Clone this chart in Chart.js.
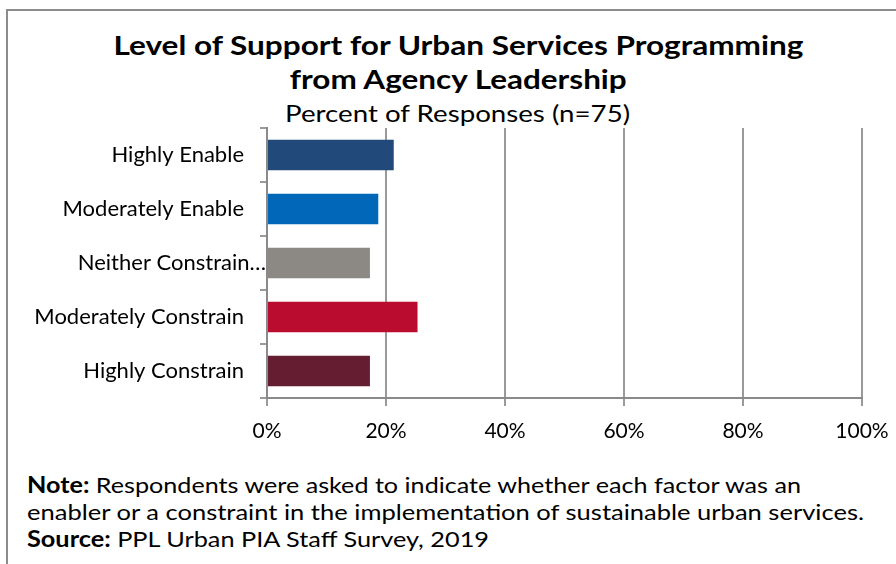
<!DOCTYPE html>
<html>
<head>
<meta charset="utf-8">
<script src="https://cdn.jsdelivr.net/npm/chart.js@4/dist/chart.umd.min.js"></script>
<style>
  html, body { margin: 0; padding: 0; background: #fff; overflow: hidden; }
  body { width: 896px; height: 564px; position: relative; font-family: Lato, "Open Sans", sans-serif; color: #000; }
  .frame { position: absolute; left: 6px; top: 9px; width: 960px; height: 620px; border: 2px solid #8c8c8c; box-sizing: border-box; }
  .line { position: absolute; left: 8px; width: 900px; text-align: center; line-height: 1; white-space: nowrap; }
  .line span, .note span { display: inline-block; transform-origin: center center; }
  .t1 { top: 32px; font-size: 26px; font-weight: 700; }
  .t2 { top: 66px; font-size: 26px; font-weight: 700; }
  .sub { top: 101px; font-size: 24px; font-weight: 400; }
  #wrap { position: absolute; left: 8px; top: 10px; width: 902px; height: 442px; }
  .note { position: absolute; left: 27px; font-size: 22px; line-height: 1; white-space: nowrap; }
  .note span { transform-origin: left center; }
  .n1 { top: 474px; } .n2 { top: 501px; } .n3 { top: 528px; }
</style>
</head>
<body>
<div class="frame"></div>
<div class="line t1"><span data-w="690">Level of Support for Urban Services Programming</span></div>
<div class="line t2"><span data-w="337">from Agency Leadership</span></div>
<div class="line sub"><span data-w="345">Percent of Responses (n=75)</span></div>
<div id="wrap"><canvas id="chart" width="902" height="442"></canvas></div>
<div class="note n1"><span data-w="774"><b>Note:</b> Respondents were asked to indicate whether each factor was an</span></div>
<div class="note n2"><span data-w="837">enabler or a constraint in the implementation of sustainable urban services.</span></div>
<div class="note n3"><span data-w="462"><b>Source:</b> PPL Urban PIA Staff Survey, 2019</span></div>
<script>
// Response categories, top to bottom
const categories = [
  'Highly Enable',
  'Moderately Enable',
  'Neither Constrain\u2026',
  'Moderately Constrain',
  'Highly Constrain'
];
// Share of the 75 responses in each category (%)
const percentValues = [21.3, 18.7, 17.3, 25.3, 17.3];
const barColors = ['#21497a', '#0067b9', '#8c8985', '#ba0c2f', '#651d32'];
// Value axis ticks
const xTickValues = [0, 20, 40, 60, 80, 100];

// Stretch heading and note lines horizontally to their set widths
document.querySelectorAll('span[data-w]').forEach(el => {
  const w = el.getBoundingClientRect().width;
  el.style.transform = 'scaleX(' + (Number(el.dataset.w) / w) + ')';
});

const gridGray = '#9a9a9a';
const fontFamily = 'Lato, "Open Sans", sans-serif';

new Chart(document.getElementById('chart'), {
  type: 'bar',
  data: {
    labels: categories,
    datasets: [{
      data: percentValues,
      backgroundColor: barColors,
      borderWidth: 0,
      barPercentage: 0.565,
      categoryPercentage: 1
    }]
  },
  options: {
    indexAxis: 'y',
    responsive: false,
    animation: false,
    devicePixelRatio: 1,
    layout: { padding: { top: 118, right: 48, bottom: 4, left: 0 } },
    plugins: {
      legend: { display: false },
      title: { display: false },
      tooltip: { enabled: false }
    },
    scales: {
      x: {
        min: 0,
        max: 100,
        afterBuildTicks: (scale) => { scale.ticks = xTickValues.map(v => ({ value: v })); },
        afterFit: (scale) => { scale.height = 50; },
        grid: { color: gridGray, lineWidth: 2, tickLength: 8, drawTicks: true },
        border: { color: '#8a8a8a', width: 2 },
        ticks: {
          color: '#000',
          font: { family: fontFamily, size: 21 },
          padding: 13,
          maxRotation: 0,
          callback: (v) => v + '%'
        }
      },
      y: {
        z: 1,
        afterFit: (scale) => { scale.width = 259; },
        grid: { drawOnChartArea: false, drawTicks: true, tickLength: 7, color: gridGray, lineWidth: 2, offset: true },
        border: { color: '#8a8a8a', width: 2 },
        ticks: {
          color: '#000',
          font: { family: fontFamily, size: 22 },
          padding: -6,
          // truncated labels run up to the axis; the rest sit a little further left
          callback: (v, i) => categories[i].endsWith('\u2026') ? categories[i] : categories[i] + '\u2002\u2002'
        }
      }
    }
  }
});
</script>
</body>
</html>
